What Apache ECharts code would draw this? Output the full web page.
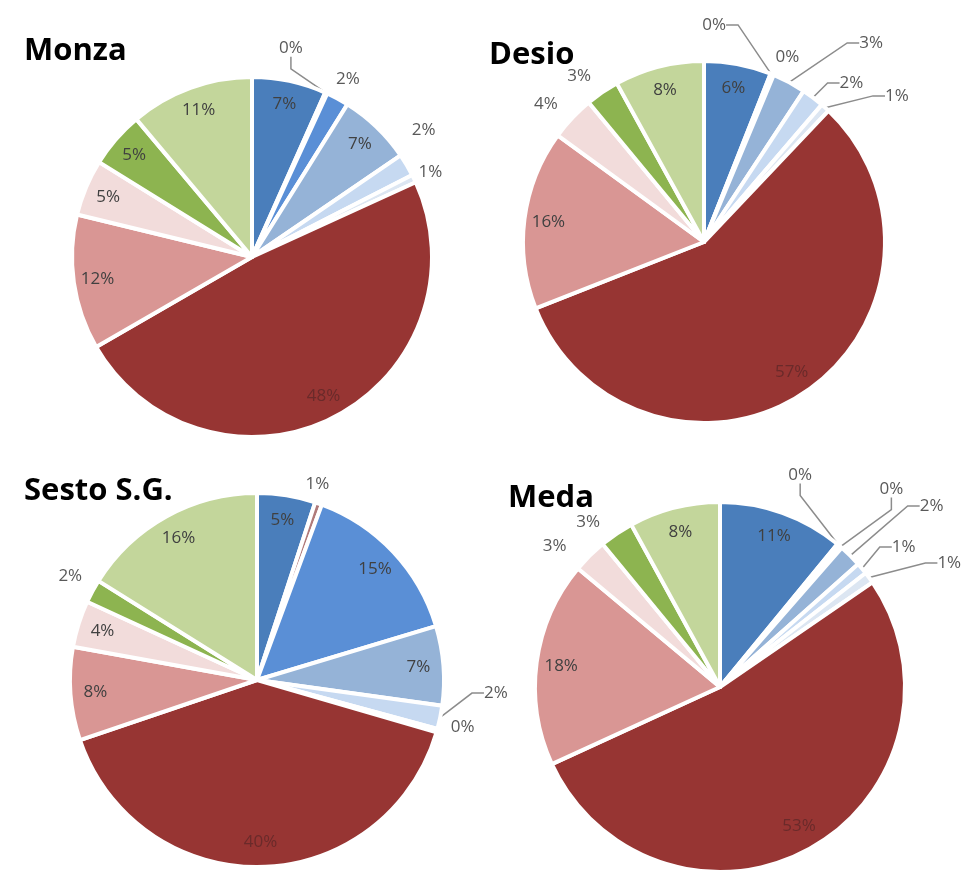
<!DOCTYPE html>
<html><head><meta charset="utf-8">
<script src="https://cdn.jsdelivr.net/npm/echarts@6/dist/echarts.min.js"></script>
<style>html,body{margin:0;padding:0;background:#fff}#c{width:963px;height:881px}</style>
</head><body><div id="c"></div><script>
// ---- data ----
const categories = ['Cat 1','Cat 2','Cat 3','Cat 4','Cat 5','Cat 6','Cat 7','Cat 8','Cat 9','Cat 10','Cat 11'];
const pieTitles = ['Monza','Desio','Sesto S.G.','Meda'];
const monzaValues = [6.6, 0.2, 2, 6.5, 2, 0.7, 48, 12, 5, 5, 11];
const desioValues = [6, 0.1, 0.2, 3, 2, 0.8, 57, 16, 4, 3, 8];
const sestoValues = [5, 0.6, 14.6, 6.8, 2, 0.3, 40, 8, 4, 2, 16];
const medaValues  = [11, 0.2, 0.3, 2, 1, 1, 53, 18, 3, 3, 8];

// ---- label placement (style only) ----
const monzaModes = ['in','line','out','in','out','out','in','in','in','in','in'];
const desioModes = ['in','line','out','line','line','line','in','in','out','out','in'];
const sestoModes = ['in','out','in','in','line','out','in','in','in','out','in'];
const medaModes  = ['in','line','line','line','line','line','in','in','out','out','in'];
// label nudges [dx, dy] applied after the library's own outside layout
const monzaShift = [null,[-70,-32],[-27,-20],null,[-3,-32],[-5,-9],null,null,null,null,null];
const desioShift = [null,[-91,-36],[-35,-23],[9,-56],[-28,-35],[4,-41],null,null,[-5,-10],[-3,-11],null];
const sestoShift = [null,[-20,-14],null,null,[15,-27],[3,-12],null,null,null,[0,-12],null];
const medaShift  = [null,[-76,-59],[-3,-64],[23,-66],[-16,-44],[21,-47],null,null,[-14,-5],[-8,-7],null];

const colors = ['#4A7EBB','#B07A7A','#5A8FD6','#95B3D7','#C6D9F1','#DCE6F2','#973533','#D99694','#F2DCDB','#8DB450','#C3D69B'];
const allValues = [monzaValues, desioValues, sestoValues, medaValues];
const allModes = [monzaModes, desioModes, sestoModes, medaModes];
const allShift = [monzaShift, desioShift, sestoShift, medaShift];
const centers = [[252,257],[704,242],[257,680],[720,687]];
const radii = [180,181,187,185];
const titlePos = [[19,31],[484,35],[19,471],[503,478]];

const fmt = p => Math.round(p.value) + '%';
const series = [];
const titles = [];
allValues.forEach((vals, k) => {
  const modes = allModes[k];
  const shifts = allShift[k];
  const r = radii[k];
  titles.push({text: pieTitles[k], left: titlePos[k][0], top: titlePos[k][1],
    textStyle: {fontFamily: 'Open Sans', fontWeight: 'bold', fontSize: 31, color: '#000'}});
  series.push({
    type: 'pie', center: centers[k], radius: [0, r], startAngle: 90, clockwise: true,
    silent: true, animation: false, avoidLabelOverlap: true,
    itemStyle: {borderColor: '#fff', borderWidth: 4},
    labelLayout: function (p) {
      const s = shifts[p.dataIndex];
      if (!s) return {};
      const rc = p.labelRect;
      return {x: rc.x + s[0], y: rc.y + rc.height / 2 + s[1], align: 'left', verticalAlign: 'middle'};
    },
    data: vals.map((v, i) => ({
      name: categories[i], value: v,
      itemStyle: {color: colors[i]},
      label: modes[i] === 'in' ? {show: false} : {
        show: true, position: 'outside', formatter: fmt,
        fontFamily: 'Open Sans', fontSize: 17, color: '#595959'
      },
      labelLine: {show: modes[i] === 'line', length: modes[i] === 'line' ? 14 : 6,
        length2: modes[i] === 'line' ? 12 : 0,
        lineStyle: {color: '#8C8C8C', width: 1.5}}
    }))
  });
  series.push({
    type: 'pie', center: centers[k], radius: [0, r * 1.7], startAngle: 90, clockwise: true,
    silent: true, animation: false, avoidLabelOverlap: false,
    itemStyle: {color: 'rgba(0,0,0,0)', borderWidth: 0},
    labelLine: {show: false},
    data: vals.map((v, i) => ({
      name: categories[i], value: v,
      label: modes[i] === 'in' ? {
        show: true, position: 'inside', formatter: fmt,
        fontFamily: 'Open Sans', fontSize: 17, color: i === 6 ? '#6A2A2A' : '#404040'
      } : {show: false}
    }))
  });
});

const chart = echarts.init(document.getElementById('c'), null, {renderer: 'canvas'});
chart.setOption({backgroundColor: '#fff', animation: false, title: titles, series: series});
</script></body></html>
